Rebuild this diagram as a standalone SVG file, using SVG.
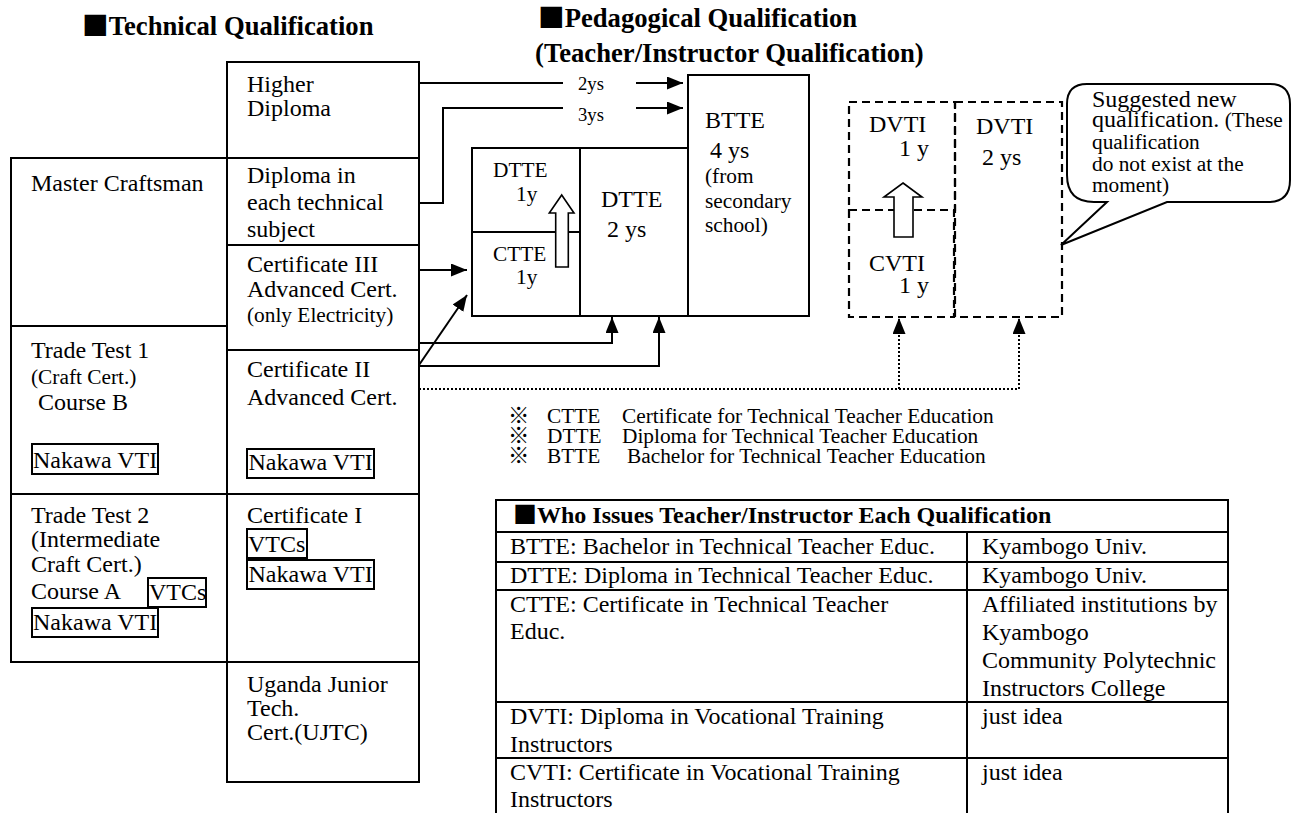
<svg xmlns="http://www.w3.org/2000/svg" width="1315" height="813" viewBox="0 0 1315 813">
<style>
text{font-family:"Liberation Serif","Times New Roman",serif;fill:#000;font-size:24px}
.s{font-size:21.33px}
.l{font-size:18.67px}
.h{font-size:26.67px;font-weight:bold}
.hb{font-size:24px;font-weight:bold}
.cjk{font-family:"Noto Sans CJK JP",sans-serif}
.box{fill:#fff;stroke:#000;stroke-width:2}
.ibox{fill:none;stroke:#000;stroke-width:2}
.dash{fill:none;stroke:#000;stroke-width:2.2;stroke-dasharray:8 5}
.ln{fill:none;stroke:#000;stroke-width:2}
.dot{fill:none;stroke:#000;stroke-width:2;stroke-dasharray:2 2}
.hollow{fill:#fff;stroke:#000;stroke-width:1.6}
</style>
<defs>
<marker id="ah" viewBox="0 0 16 13" refX="16" refY="6.5" markerWidth="16" markerHeight="13" markerUnits="userSpaceOnUse" orient="auto">
<path d="M0,0 L16,6.5 L0,13 z" fill="#000"/>
</marker>
</defs>
<rect width="1315" height="813" fill="#fff"/>

<g id="headings">
<text class="h" x="82" y="35"><tspan class="cjk">■</tspan>Technical Qualification</text>
<text class="h" x="538" y="27"><tspan class="cjk">■</tspan>Pedagogical Qualification</text>
<text class="h" x="535" y="62">(Teacher/Instructor Qualification)</text>
</g>

<g id="node-master-craftsman">
<rect class="box" x="11" y="158" width="216" height="168"/>
<text x="31" y="191">Master Craftsman</text>
</g>
<g id="node-trade-test-1">
<rect class="box" x="11" y="326" width="216" height="168"/>
<text x="31" y="358">Trade Test 1</text>
<text class="s" x="31" y="384">(Craft Cert.)</text>
<text x="38" y="410">Course B</text>
<rect class="ibox" x="32" y="444" width="126" height="30"/>
<text x="33" y="468">Nakawa VTI</text>
</g>
<g id="node-trade-test-2">
<rect class="box" x="11" y="494" width="216" height="168"/>
<text x="31" y="523">Trade Test 2</text>
<text x="31" y="547">(Intermediate</text>
<text x="31" y="572">Craft Cert.)</text>
<text x="31" y="599">Course A</text>
<rect class="ibox" x="148" y="578" width="58" height="29"/>
<text x="149" y="600">VTCs</text>
<rect class="ibox" x="32" y="608" width="126" height="29"/>
<text x="33" y="630">Nakawa VTI</text>
</g>

<g id="node-higher-diploma">
<rect class="box" x="227" y="62" width="192" height="96"/>
<text x="247" y="92">Higher</text>
<text x="247" y="116">Diploma</text>
</g>
<g id="node-diploma">
<rect class="box" x="227" y="158" width="192" height="87"/>
<text x="247" y="183">Diploma in</text>
<text x="247" y="210">each technical</text>
<text x="247" y="237">subject</text>
</g>
<g id="node-cert-3">
<rect class="box" x="227" y="245" width="192" height="105"/>
<text x="247" y="272">Certificate III</text>
<text x="247" y="297">Advanced Cert.</text>
<text class="s" x="247" y="322">(only Electricity)</text>
</g>
<g id="node-cert-2">
<rect class="box" x="227" y="350" width="192" height="144"/>
<text x="247" y="377">Certificate II</text>
<text x="247" y="405">Advanced Cert.</text>
<rect class="ibox" x="247" y="449" width="127" height="29"/>
<text x="248.5" y="470">Nakawa VTI</text>
</g>
<g id="node-cert-1">
<rect class="box" x="227" y="494" width="192" height="168"/>
<text x="247" y="523">Certificate I</text>
<rect class="ibox" x="247" y="529" width="60" height="29"/>
<text x="248" y="552">VTCs</text>
<rect class="ibox" x="247" y="560" width="127" height="29"/>
<text x="248.5" y="582">Nakawa VTI</text>
</g>
<g id="node-ujtc">
<rect class="box" x="227" y="662" width="192" height="120"/>
<text x="247" y="692">Uganda Junior</text>
<text x="247" y="716">Tech.</text>
<text x="247" y="740">Cert.(UJTC)</text>
</g>

<g id="node-dtte-1y">
<rect class="box" x="472" y="148" width="108" height="84"/>
<text class="s" x="493" y="177">DTTE</text>
<text class="s" x="516" y="201">1y</text>
</g>
<g id="node-ctte-1y">
<rect class="box" x="472" y="232" width="108" height="84"/>
<text class="s" x="493" y="261">CTTE</text>
<text class="s" x="516" y="284">1y</text>
</g>
<g id="node-dtte-2ys">
<rect class="box" x="580" y="148" width="108" height="168"/>
<text x="601" y="207">DTTE</text>
<text x="607" y="237">2 ys</text>
</g>
<g id="node-btte">
<rect class="box" x="688" y="75" width="121" height="241"/>
<text x="705" y="128">BTTE</text>
<text x="710" y="158">4 ys</text>
<text class="s" x="705" y="183">(from</text>
<text class="s" x="705" y="208">secondary</text>
<text class="s" x="705" y="232">school)</text>
</g>

<g id="node-dvti-1y">
<rect class="dash" x="849" y="102" width="106" height="108"/>
<text x="869" y="132">DVTI</text>
<text x="899" y="156">1 y</text>
</g>
<g id="node-cvti-1y">
<rect class="dash" x="849" y="210" width="105" height="107"/>
<text x="869" y="271">CVTI</text>
<text x="899" y="293">1 y</text>
</g>
<g id="node-dvti-2ys">
<rect class="dash" x="955" y="102" width="107" height="215"/>
<text x="976" y="134">DVTI</text>
<text x="982" y="165">2 ys</text>
</g>

<g id="connectors">
<line class="ln" x1="419" y1="83" x2="563" y2="83"/>
<text class="l" x="578" y="90">2ys</text>
<line class="ln" x1="636" y1="83" x2="683" y2="83" marker-end="url(#ah)"/>
<polyline class="ln" points="419,203 443,203 443,108 563,108"/>
<text class="l" x="578" y="121">3ys</text>
<line class="ln" x1="636" y1="108" x2="683" y2="108" marker-end="url(#ah)"/>
<line class="ln" x1="419" y1="270" x2="467" y2="270" marker-end="url(#ah)"/>
<line class="ln" x1="419" y1="365" x2="467" y2="295" marker-end="url(#ah)"/>
<polyline class="ln" points="419,343 612,343 612,317" marker-end="url(#ah)"/>
<polyline class="ln" points="419,366 659,366 659,317" marker-end="url(#ah)"/>
<polyline class="dot" points="419,389 1019,389 1019,318" marker-end="url(#ah)"/>
<polyline class="dot" points="899,389 899,318" marker-end="url(#ah)"/>
<path class="hollow" d="M561.7,195 L574,213 L568.3,213 L568.3,267 L555.7,267 L555.7,213 L549.3,213 Z"/>
<path class="hollow" d="M903,183 L922,197 L913,197 L913,237 L894,237 L894,197 L884,197 Z"/>
</g>

<g id="callout">
<path d="M1107,202 L1061,245 L1167,202 H1268 Q1290,202 1290,180 V104 Q1290,84 1270,84 H1087 Q1067,84 1067,104 V175 Q1067,202 1094,202 Z" fill="#fff" stroke="#000" stroke-width="2"/>
<text x="1092" y="107">Suggested new</text>
<text x="1092" y="127">qualification.<tspan class="s"> (These</tspan></text>
<text class="s" x="1092" y="149">qualification</text>
<text class="s" x="1092" y="171">do not exist at the</text>
<text class="s" x="1092" y="192">moment)</text>
</g>

<g id="legend">
<text class="s" y="423"><tspan class="cjk" x="508">※</tspan><tspan x="547">CTTE</tspan><tspan x="622">Certificate for Technical Teacher Education</tspan></text>
<text class="s" y="443"><tspan class="cjk" x="508">※</tspan><tspan x="547">DTTE</tspan><tspan x="622">Diploma for Technical Teacher Education</tspan></text>
<text class="s" y="463"><tspan class="cjk" x="508">※</tspan><tspan x="547">BTTE</tspan><tspan x="627">Bachelor for Technical Teacher Education</tspan></text>
</g>

<g id="issuer-table">
<rect class="ibox" x="496" y="500" width="732" height="330"/>
<line class="ln" x1="496" y1="532" x2="1228" y2="532"/>
<line class="ln" x1="496" y1="562" x2="1228" y2="562"/>
<line class="ln" x1="496" y1="590" x2="1228" y2="590"/>
<line class="ln" x1="496" y1="702" x2="1228" y2="702"/>
<line class="ln" x1="496" y1="758" x2="1228" y2="758"/>
<line class="ln" x1="967" y1="532" x2="967" y2="830"/>
<text class="hb" x="513" y="523"><tspan class="cjk">■</tspan>Who Issues Teacher/Instructor Each Qualification</text>
<text x="510" y="554">BTTE: Bachelor in Technical Teacher Educ.</text>
<text x="982" y="554">Kyambogo Univ.</text>
<text x="510" y="583">DTTE: Diploma in Technical Teacher Educ.</text>
<text x="982" y="583">Kyambogo Univ.</text>
<text x="510" y="612">CTTE: Certificate in Technical Teacher</text>
<text x="510" y="639">Educ.</text>
<text x="982" y="612">Affiliated institutions by</text>
<text x="982" y="640">Kyambogo</text>
<text x="982" y="668">Community Polytechnic</text>
<text x="982" y="696">Instructors College</text>
<text x="510" y="724">DVTI: Diploma in Vocational Training</text>
<text x="510" y="752">Instructors</text>
<text x="982" y="724">just idea</text>
<text x="510" y="780">CVTI: Certificate in Vocational Training</text>
<text x="510" y="807">Instructors</text>
<text x="982" y="780">just idea</text>
</g>
</svg>
